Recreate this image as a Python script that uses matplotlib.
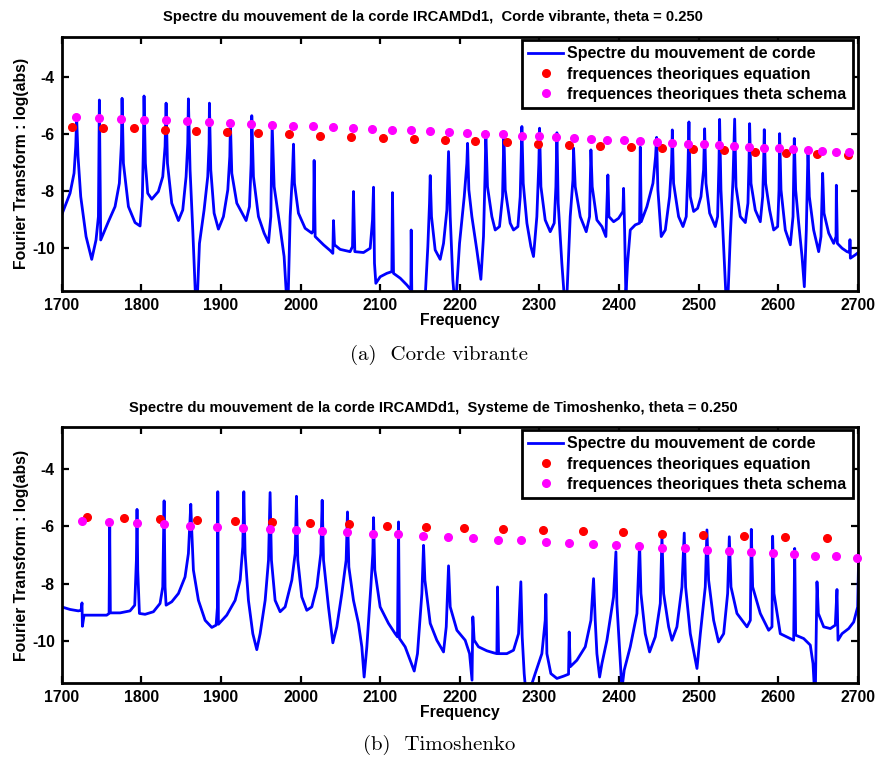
import matplotlib
matplotlib.use("Agg")
import matplotlib.pyplot as plt
import numpy as np

plt.rcParams['font.family'] = ['Liberation Sans', 'DejaVu Sans']
plt.rcParams['axes.unicode_minus'] = False

# ---------------- data: top panel (Corde vibrante) ----------------
top_freq = [1700.0, 1710.5, 1715.5, 1717.6, 1718.8, 1720.5, 1723.9, 1730.6, 1737.7, 1743.1,
            1746.1, 1747.3, 1749.0, 1758.6, 1767.0, 1772.4, 1775.0, 1775.8, 1777.5, 1783.8,
            1792.1, 1798.4, 1801.3, 1802.6, 1803.4, 1805.1, 1808.0, 1813.1, 1821.4, 1826.9,
            1829.8, 1831.1, 1832.8, 1838.2, 1846.6, 1852.0, 1856.2, 1858.3, 1859.1, 1861.2,
            1864.6, 1868.0, 1870.4, 1873.0, 1878.8, 1883.4, 1885.1, 1885.5, 1887.2, 1891.4,
            1896.8, 1903.1, 1908.6, 1911.1, 1911.9, 1913.6, 1919.9, 1931.6, 1935.8, 1937.9,
            1938.7, 1940.8, 1947.1, 1954.2, 1959.7, 1962.6, 1964.3, 1966.8, 1973.5, 1979.3,
            1982.3, 1984.4, 1986.9, 1989.8, 1991.1, 1992.3, 1997.3, 2005.7, 2014.1, 2016.2,
            2017.0, 2018.3, 2028.8, 2037.1, 2040.5, 2041.3, 2042.6, 2049.7, 2062.2, 2065.2,
            2066.4, 2068.1, 2079.0, 2087.4, 2090.3, 2091.6, 2092.8, 2094.5, 2100.0, 2108.3,
            2114.6, 2115.4, 2116.7, 2125.1, 2133.5, 2138.5, 2138.9, 2139.7, 2156.5, 2159.8,
            2161.9, 2162.8, 2164.4, 2169.0, 2175.3, 2179.5, 2183.7, 2185.8, 2187.9, 2191.2,
            2192.9, 2195.4, 2199.6, 2205.5, 2208.8, 2209.7, 2211.3, 2215.1, 2221.3, 2226.4,
            2229.7, 2231.8, 2232.6, 2234.7, 2240.2, 2244.4, 2249.8, 2253.6, 2255.3, 2257.0,
            2263.2, 2267.4, 2272.9, 2275.8, 2277.9, 2279.6, 2284.2, 2289.2, 2292.5, 2296.7,
            2299.2, 2300.1, 2301.8, 2307.2, 2313.5, 2318.5, 2320.6, 2321.9, 2323.5, 2328.1,
            2331.1, 2334.4, 2338.6, 2342.0, 2342.8, 2344.9, 2351.2, 2358.7, 2362.9, 2364.6,
            2366.2, 2372.1, 2378.4, 2383.4, 2385.9, 2387.2, 2393.1, 2399.3, 2404.8, 2405.6,
            2406.9, 2408.5, 2410.6, 2414.0, 2420.3, 2425.7, 2426.6, 2427.8, 2434.9, 2442.5,
            2445.8, 2447.1, 2448.7, 2452.9, 2458.0, 2463.4, 2465.9, 2466.8, 2468.4, 2474.7,
            2480.2, 2484.3, 2486.4, 2487.7, 2489.4, 2493.6, 2498.6, 2502.8, 2506.1, 2507.4,
            2509.1, 2513.7, 2520.8, 2523.7, 2525.4, 2526.2, 2527.9, 2531.3, 2534.2, 2536.7,
            2539.6, 2543.0, 2545.1, 2546.8, 2552.2, 2558.5, 2561.8, 2563.1, 2563.9, 2565.6,
            2571.0, 2577.3, 2580.3, 2581.5, 2582.3, 2584.0, 2589.0, 2594.1, 2599.1, 2600.8,
            2601.6, 2603.3, 2608.7, 2615.0, 2618.4, 2620.0, 2621.7, 2625.5, 2629.7, 2632.6,
            2635.1, 2637.2, 2638.9, 2644.3, 2650.6, 2653.5, 2655.6, 2657.3, 2663.2, 2669.5,
            2672.4, 2672.8, 2674.1, 2680.0, 2686.2, 2689.6, 2689.9, 2690.4, 2696.7, 2701.8]
top_spec = [-8.83, -8.07, -7.37, -6.43, -5.44, -6.78, -8.19, -9.59, -10.39, -9.71,
            -8.89, -4.80, -9.71, -9.07, -8.54, -7.72, -6.32, -4.74, -7.02, -8.54,
            -9.10, -9.22, -8.19, -6.43, -4.66, -7.02, -8.07, -8.28, -8.01, -7.49,
            -6.43, -4.91, -7.02, -8.42, -9.03, -8.66, -7.49, -6.32, -4.76, -7.25,
            -9.36, -11.7, -11.7, -9.83, -8.66, -7.49, -6.32, -4.91, -7.25, -8.77,
            -9.33, -8.89, -7.95, -6.78, -5.62, -7.37, -8.42, -9.03, -8.54, -7.02,
            -5.35, -7.49, -8.89, -9.47, -9.80, -8.89, -5.67, -7.84, -9.12, -10.29,
            -11.7, -11.7, -8.89, -7.37, -6.35, -7.72, -8.77, -9.30, -9.47, -9.36,
            -6.92, -9.59, -9.88, -10.08, -10.18, -9.03, -9.88, -10.04, -10.12, -9.94,
            -8.01, -10.12, -10.15, -10.00, -9.01, -7.86, -10.53, -11.23, -11.00, -10.88,
            -10.82, -8.05, -10.88, -11.05, -11.29, -11.46, -9.36, -11.7, -11.7, -9.94,
            -8.42, -7.45, -8.89, -10.06, -10.39, -9.83, -8.66, -6.61, -8.89, -11.11,
            -11.7, -11.7, -9.83, -8.19, -7.02, -6.32, -7.95, -8.89, -10.06, -11.09,
            -9.59, -7.25, -5.91, -7.84, -8.89, -9.36, -9.24, -8.19, -5.95, -7.95,
            -9.12, -9.36, -9.24, -8.19, -5.73, -7.72, -9.12, -9.94, -10.29, -8.89,
            -7.02, -5.79, -7.84, -9.01, -9.42, -9.12, -7.84, -5.95, -8.42, -10.53,
            -11.7, -11.7, -8.89, -7.60, -6.49, -7.84, -8.89, -9.42, -8.89, -6.55,
            -7.84, -9.01, -9.24, -9.59, -7.43, -8.89, -9.07, -8.95, -8.71, -7.90,
            -9.36, -11.7, -10.53, -9.36, -9.18, -9.12, -6.45, -9.07, -8.54, -7.72,
            -6.78, -6.11, -7.95, -9.59, -9.36, -8.19, -7.02, -5.85, -7.72, -8.89,
            -9.24, -8.89, -7.25, -5.57, -8.19, -8.71, -8.60, -8.19, -7.25, -5.81,
            -7.72, -8.77, -9.24, -8.89, -7.02, -5.48, -7.95, -9.94, -11.7, -11.7,
            -9.59, -7.60, -5.47, -7.84, -8.89, -9.10, -8.42, -7.02, -5.63, -7.72,
            -8.66, -9.07, -8.19, -7.02, -5.84, -7.72, -8.66, -9.36, -9.24, -7.95,
            -5.98, -7.95, -9.36, -9.88, -8.89, -6.15, -7.95, -9.12, -10.29, -11.35,
            -9.36, -6.55, -8.19, -9.36, -10.12, -9.59, -7.37, -8.77, -9.47, -9.83,
            -9.59, -7.79, -9.83, -10.00, -10.12, -10.15, -9.70, -10.35, -10.23, -10.12]

top_eq_freq = [1712.6, 1751.5, 1790.9, 1829.8, 1868.8, 1908.1, 1947.1, 1986.0, 2025.0, 2063.9,
               2102.9, 2141.8, 2180.8, 2219.5, 2259.0, 2297.6, 2336.5, 2375.5, 2414.8, 2453.8,
               2492.7, 2532.1, 2571.0, 2610.0, 2649.0, 2687.5]
top_eq_val = [-5.73, -5.77, -5.80, -5.85, -5.88, -5.93, -5.97, -6.01, -6.05, -6.09,
              -6.13, -6.16, -6.21, -6.25, -6.28, -6.33, -6.38, -6.41, -6.45, -6.49,
              -6.53, -6.57, -6.61, -6.66, -6.69, -6.74]
top_th_freq = [1718.0, 1746.9, 1775.0, 1803.0, 1830.7, 1857.9, 1885.1, 1911.9, 1938.3, 1964.3,
               1990.2, 2015.8, 2040.9, 2065.6, 2090.3, 2114.6, 2138.5, 2162.3, 2185.8, 2209.0,
               2232.2, 2254.8, 2277.5, 2299.2, 2321.0, 2342.8, 2364.1, 2385.1, 2406.0, 2426.6,
               2447.1, 2466.8, 2486.4, 2506.1, 2525.4, 2544.7, 2563.5, 2582.0, 2600.8, 2618.8,
               2636.8, 2654.8, 2672.4, 2689.1]
top_th_val = [-5.40, -5.43, -5.45, -5.49, -5.51, -5.54, -5.57, -5.60, -5.64, -5.66,
              -5.70, -5.72, -5.76, -5.78, -5.81, -5.84, -5.87, -5.90, -5.92, -5.96,
              -5.99, -6.01, -6.05, -6.07, -6.11, -6.13, -6.16, -6.19, -6.21, -6.25,
              -6.28, -6.30, -6.34, -6.36, -6.39, -6.42, -6.45, -6.47, -6.50, -6.53,
              -6.56, -6.60, -6.62, -6.64]

# ---------------- data: bottom panel (Timoshenko) ----------------
bot_freq = [1700.0, 1710.5, 1720.9, 1724.3, 1725.5, 1726.0, 1728.1, 1739.8, 1756.5, 1759.5,
            1760.3, 1761.1, 1773.3, 1785.8, 1791.7, 1793.8, 1794.6, 1795.5, 1797.6, 1804.7,
            1815.2, 1823.5, 1826.9, 1828.6, 1829.8, 1831.1, 1838.2, 1846.6, 1854.9, 1859.1,
            1861.2, 1862.1, 1863.3, 1865.4, 1871.7, 1880.1, 1888.5, 1893.9, 1895.6, 1896.0,
            1896.8, 1907.3, 1917.8, 1924.1, 1927.4, 1928.7, 1930.3, 1934.5, 1940.0, 1945.0,
            1949.2, 1955.5, 1959.7, 1961.7, 1963.4, 1968.0, 1974.3, 1980.6, 1989.0, 1993.2,
            1994.8, 1996.5, 2001.5, 2007.8, 2014.1, 2020.4, 2025.4, 2027.1, 2028.8, 2035.0,
            2040.5, 2045.5, 2051.8, 2057.2, 2058.9, 2060.6, 2066.4, 2072.7, 2076.9, 2079.8,
            2083.2, 2088.2, 2090.7, 2091.6, 2093.2, 2099.9, 2110.4, 2118.8, 2121.7, 2123.0,
            2124.2, 2131.3, 2137.6, 2142.7, 2146.8, 2152.3, 2154.4, 2156.1, 2162.8, 2171.1,
            2179.5, 2182.9, 2185.8, 2187.9, 2196.3, 2206.7, 2212.2, 2215.3, 2216.3, 2218.0,
            2223.4, 2233.9, 2242.3, 2246.5, 2247.3, 2248.6, 2259.0, 2267.4, 2273.7, 2276.6,
            2278.3, 2280.8, 2282.5, 2288.3, 2294.6, 2303.0, 2307.2, 2308.0, 2309.3, 2314.3,
            2321.9, 2330.2, 2336.5, 2337.3, 2338.6, 2347.0, 2357.5, 2364.6, 2367.9, 2370.0,
            2372.1, 2375.5, 2378.4, 2384.7, 2393.0, 2396.0, 2397.2, 2400.6, 2403.5, 2406.4,
            2414.0, 2422.4, 2425.7, 2427.4, 2432.8, 2438.3, 2445.4, 2451.7, 2453.8, 2455.9,
            2462.2, 2466.4, 2472.6, 2478.9, 2481.8, 2483.5, 2489.4, 2497.8, 2502.0, 2508.2,
            2510.3, 2512.4, 2518.7, 2524.9, 2531.3, 2536.3, 2538.4, 2540.5, 2548.0, 2560.6,
            2564.8, 2566.0, 2567.7, 2577.3, 2587.8, 2592.0, 2592.8, 2594.5, 2602.4, 2615.0,
            2619.2, 2620.5, 2621.7, 2631.8, 2640.1, 2643.5, 2645.2, 2646.5, 2647.7, 2648.5,
            2650.2, 2656.9, 2665.2, 2671.5, 2673.6, 2674.9, 2679.9, 2688.3, 2694.6, 2699.6,
            2700.9]
bot_spec = [-8.82, -8.91, -8.96, -8.94, -8.68, -9.50, -9.11, -9.11, -9.11, -9.05,
            -6.01, -9.03, -9.03, -8.96, -8.76, -7.18, -5.40, -7.53, -9.05, -9.08,
            -8.99, -8.70, -8.12, -5.10, -8.12, -8.76, -8.64, -8.35, -7.77, -6.95,
            -5.78, -5.22, -6.13, -7.53, -8.59, -9.29, -9.54, -9.46, -8.82, -4.78,
            -9.43, -9.11, -8.59, -7.88, -6.71, -4.78, -6.95, -8.59, -9.76, -10.32,
            -9.76, -8.59, -7.18, -4.81, -7.18, -8.59, -8.99, -8.82, -7.88, -6.95,
            -4.94, -7.18, -8.47, -8.94, -8.82, -8.12, -6.95, -5.08, -7.18, -8.82,
            -10.08, -9.52, -8.35, -7.18, -5.49, -7.42, -8.59, -9.40, -10.22, -11.28,
            -10.22, -8.12, -6.95, -5.69, -7.53, -8.82, -9.40, -9.76, -9.87, -5.84,
            -9.93, -10.22, -10.69, -11.07, -10.46, -8.35, -6.66, -7.88, -9.40, -9.99,
            -10.40, -9.52, -7.38, -8.82, -9.64, -9.99, -10.46, -11.39, -9.17, -9.99,
            -10.22, -10.36, -10.43, -10.46, -8.12, -10.46, -10.46, -10.34, -9.76, -7.94,
            -9.87, -11.16, -11.7, -11.7, -11.16, -10.46, -9.29, -8.38, -10.46, -11.16,
            -11.33, -11.25, -11.18, -9.70, -10.92, -10.69, -10.22, -9.29, -7.83, -9.29,
            -10.46, -11.28, -10.81, -9.99, -8.47, -6.89, -8.70, -10.34, -11.7, -11.04,
            -10.22, -9.05, -6.60, -8.35, -9.76, -10.40, -9.87, -8.70, -6.35, -8.35,
            -9.52, -9.99, -9.52, -8.12, -6.23, -8.12, -9.76, -10.98, -9.76, -8.12,
            -6.12, -7.88, -9.29, -10.05, -9.76, -8.35, -6.36, -8.12, -9.05, -9.52,
            -9.29, -6.10, -8.12, -9.05, -9.64, -9.52, -6.34, -8.35, -9.76, -9.93,
            -9.99, -6.77, -9.81, -9.93, -10.16, -10.81, -11.7, -11.7, -9.29, -7.94,
            -9.05, -9.52, -9.58, -9.46, -8.21, -9.99, -9.76, -9.58, -9.35, -8.82,
            -6.95]

bot_eq_freq = [1732.2, 1777.9, 1823.5, 1870.4, 1917.4, 1964.7, 2012.0, 2060.2, 2108.3, 2156.9,
               2205.5, 2254.8, 2304.3, 2354.1, 2404.4, 2454.2, 2505.7, 2557.2, 2608.7, 2661.1]
bot_eq_val = [-5.65, -5.69, -5.73, -5.77, -5.80, -5.85, -5.88, -5.93, -5.97, -6.01,
              -6.05, -6.09, -6.13, -6.16, -6.21, -6.25, -6.29, -6.33, -6.38, -6.41]
bot_th_freq = [1725.1, 1759.9, 1794.2, 1828.1, 1861.7, 1895.2, 1928.2, 1961.3, 1994.0, 2026.7,
               2058.9, 2090.7, 2122.6, 2154.0, 2185.4, 2216.4, 2247.3, 2277.0, 2307.6, 2337.3,
               2367.1, 2396.0, 2425.3, 2453.8, 2482.3, 2510.7, 2538.4, 2565.6, 2592.8, 2619.6,
               2646.4, 2672.8, 2698.8]
bot_th_val = [-5.80, -5.84, -5.88, -5.93, -5.97, -6.01, -6.05, -6.08, -6.13, -6.16,
              -6.21, -6.25, -6.28, -6.33, -6.36, -6.41, -6.46, -6.49, -6.54, -6.59,
              -6.62, -6.66, -6.70, -6.74, -6.77, -6.82, -6.86, -6.90, -6.94, -6.97,
              -7.02, -7.05, -7.10]

x_ticks = [1700, 1800, 1900, 2000, 2100, 2200, 2300, 2400, 2500, 2600, 2700]
y_ticks = [-10, -8, -6, -4]

titles = ["Spectre du mouvement de la corde IRCAMDd1,  Corde vibrante, theta = 0.250",
          "Spectre du mouvement de la corde IRCAMDd1,  Systeme de Timoshenko, theta = 0.250"]
captions = ["(a)  Corde vibrante", "(b)  Timoshenko"]
legend_labels = ["Spectre du mouvement de corde",
                 "frequences theoriques equation",
                 "frequences theoriques theta schema"]
xlabel = "Frequency"
ylabel = "Fourier Transform : log(abs)"

W, H = 879, 765
fig = plt.figure(figsize=(W / 100, H / 100), dpi=100)

def px_rect(l, t, r, b):
    return [l / W, 1 - b / H, (r - l) / W, (b - t) / H]

panels = [
    dict(rect=px_rect(61.7, 36.7, 858, 291), ylim=(-11.5, -2.58),
         f=top_freq, s=top_spec, ef=top_eq_freq, ev=top_eq_val, tf=top_th_freq, tv=top_th_val,
         title_y=17, cap_y=355),
    dict(rect=px_rect(61.7, 426.7, 858, 683.3), ylim=(-11.5, -2.5),
         f=bot_freq, s=bot_spec, ef=bot_eq_freq, ev=bot_eq_val, tf=bot_th_freq, tv=bot_th_val,
         title_y=408, cap_y=745),
]

FS = 11.3
for i, p in enumerate(panels):
    ax = fig.add_axes(p['rect'])
    ax.plot(p['f'], p['s'], color='#0000ff', lw=2.0, label=legend_labels[0], zorder=2)
    ax.plot(p['ef'], p['ev'], 'o', color='#ff0000', ms=5.5, mec='#ff0000',
            label=legend_labels[1], clip_on=False, zorder=3)
    ax.plot(p['tf'], p['tv'], 'o', color='#ff00ff', ms=5.5, mec='#ff00ff',
            label=legend_labels[2], clip_on=False, zorder=3)
    ax.set_xlim(1700, 2700)
    ax.set_ylim(*p['ylim'])
    ax.set_xticks(x_ticks)
    ax.set_yticks(y_ticks)
    ax.set_xticklabels([str(t) for t in x_ticks], fontsize=FS, fontweight='bold')
    ax.set_yticklabels([str(t) for t in y_ticks], fontsize=FS, fontweight='bold')
    ax.tick_params(direction='in', top=True, right=True, length=5, width=1.6, pad=5)
    for sp in ax.spines.values():
        sp.set_linewidth(2.0)
    ax.set_xlabel(xlabel, fontsize=FS, fontweight='bold', labelpad=0)
    ax.set_ylabel(ylabel, fontsize=FS, fontweight='bold', labelpad=2)
    leg = ax.legend(loc='upper right', bbox_to_anchor=(0.9937, 0.987), borderaxespad=0,
                    fancybox=False, framealpha=1, edgecolor='black',
                    prop=dict(family='Liberation Sans', weight='bold', size=11.5),
                    handlelength=2.2, handletextpad=0.25, labelspacing=0.33,
                    borderpad=0.4, numpoints=1)
    leg.get_frame().set_linewidth(2.0)
    fig.text(0.493, 1 - p['title_y'] / H, titles[i], ha='center', va='center',
             fontsize=10.6, fontweight='bold')
    fig.text(0.5, 1 - p['cap_y'] / H, captions[i], ha='center', va='center',
             fontsize=15, family='cmr10')

fig.savefig('out.png', dpi=100)
